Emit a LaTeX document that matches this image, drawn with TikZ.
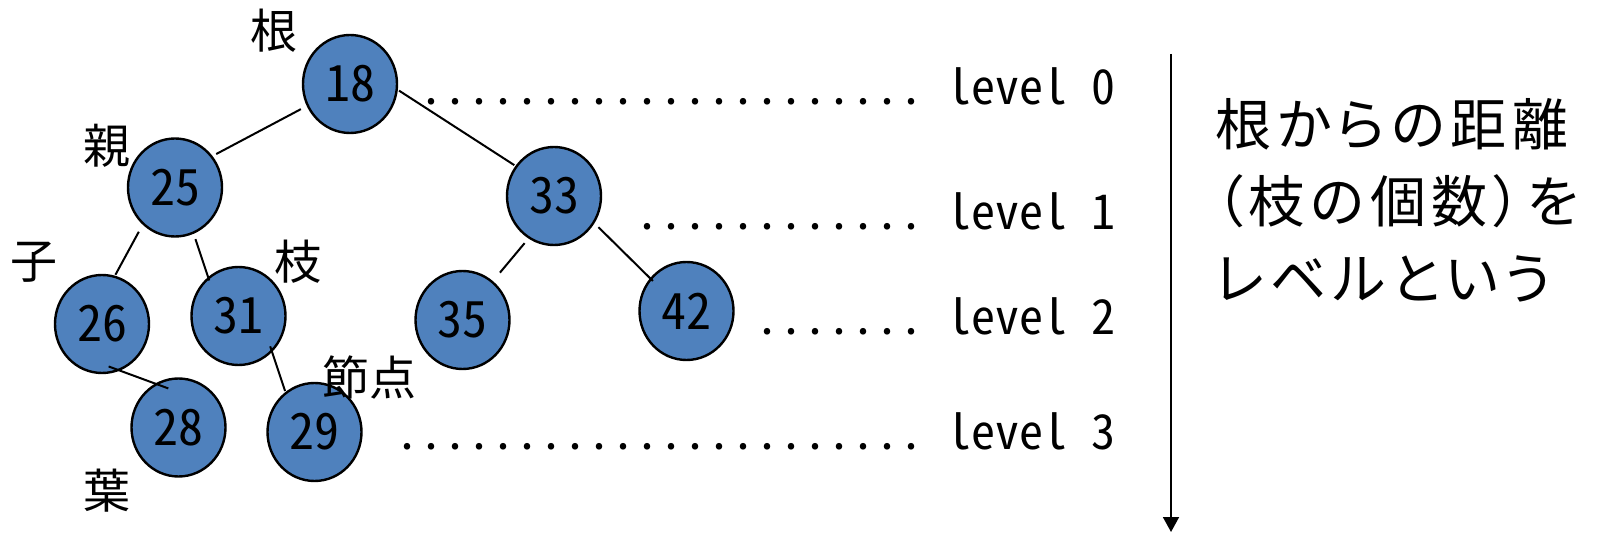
\documentclass[tikz,border=0pt]{standalone}
\usepackage{fontspec}
\setmainfont{Noto Sans CJK JP}
\newfontfamily\halfwidth[RawFeature=+hwid]{Noto Sans CJK JP}
\newfontfamily\propjp[RawFeature=+palt,LetterSpace=10]{Noto Sans CJK JP}
\usetikzlibrary{shapes.geometric,arrows.meta}

\definecolor{nodeblue}{RGB}{79,129,189}
\newcommand\dotrow[1]{\foreach \k in {1,...,#1}{.}}

\tikzset{
  vertex/.style={ellipse, draw, line width=1.2pt, fill=nodeblue,
    minimum width=47pt, minimum height=49pt, inner sep=0pt,
    font=\halfwidth\fontsize{25pt}{25pt}\selectfont},
  edge/.style={line width=1pt},
  term/.style={inner sep=0pt, font=\fontsize{23.5pt}{24pt}\selectfont},
  levelline/.style={anchor=base east, inner sep=0pt,
    font=\halfwidth\fontsize{24pt}{24pt}\selectfont},
}

\begin{document}
\begin{tikzpicture}[x=0.5pt,y=-0.5pt]
\useasboundingbox (0,0) rectangle (1598,533);

% tree
\foreach \v/\x/\y in {18/350/84, 25/175/187.5, 33/554/196, 26/102/324,
                      31/238.5/316, 35/462.5/320, 42/686.5/311,
                      28/178.5/427.5, 29/314.5/432}
  \node[vertex] (n\v) at (\x,\y) {\raisebox{-1.5pt}{\v}};

\foreach \a/\p/\b/\q/\s/\t in {18/207/25/40/3.3pt/2.1pt, 18/353/33/142/0.7pt/0.7pt,
    25/229/26/75/4pt/0.5pt, 25/292/31/128/2.8pt/-1.8pt,
    26/291/28/118/-6pt/-7pt, 31/313/29/126/-3pt/0.5pt,
    33/239/35/52/3pt/5.5pt, 33/326/42/138/2.8pt/-2pt}
  \draw[edge, shorten <=\s, shorten >=\t] (n\a.\p) -- (n\b.\q);

% terms
\node[term] (lblroot)   at (274,31)    {根};
\node[term] (lblparent) at (106.5,146) {親};
\node[term] (lblchild)  at (34,262)    {子};
\node[term] (lblbranch) at (297.5,262) {枝};
\node[term] (lblnode)   at (369,377)   {節点};
\node[term] (lblleaf)   at (106.5,491) {葉};

% levels
\foreach \lv/\yy/\n in {0/105/21, 1/230/12, 2/335/7, 3/450/22}
  \node[levelline] (lv\lv) at (1116,\yy) {\dotrow{\n}\kern12pt level\kern12pt\lv};

\coordinate (axtop) at (1171,54);
\coordinate (axend) at (1171,532);
\draw[line width=0.9pt, -{Triangle[width=8pt,length=7.5pt]}] (axtop) -- (axend);

\node[anchor=north west, align=left, inner sep=0pt,
  font=\propjp\fontsize{28pt}{38.5pt}\selectfont] (desc) at (1215,98)
  {根からの距離\\（枝の個数）を\\レベルという};
\end{tikzpicture}
\end{document}
